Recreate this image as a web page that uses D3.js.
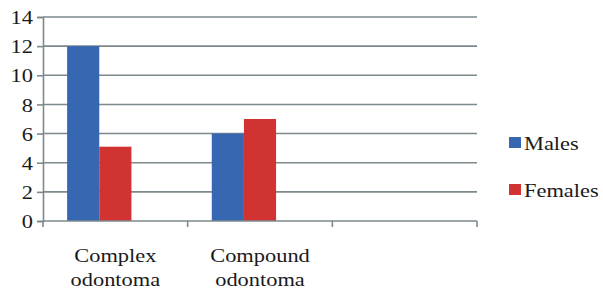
<!DOCTYPE html>
<html>
<head>
<meta charset="utf-8">
<script src="https://cdn.jsdelivr.net/npm/d3@7"></script>
<style>
  body { margin: 0; background: #fff; }
</style>
</head>
<body>
<svg id="chart" width="603" height="294" font-family="Liberation Serif"></svg>
<script>
// chart data
var categories = [["Complex", "odontoma"], ["Compound", "odontoma"], ["", ""]];
var series = ["Males", "Females"];
var males = [12, 6, null];
var females = [5.1, 7, null];
var yTicks = [0, 2, 4, 6, 8, 10, 12, 14];
var colors = ["#3767b0", "#d13232"];

(function () {
  var svg = d3.select('#chart');
  var left = 43, right = 477, plotTop = 17, plotBottom = 221;
  var gridColor = "#7d898c";
  var stretch = 'scale(1.18,1)';

  var y = d3.scaleLinear().domain([0, 14]).range([plotBottom, plotTop]);
  var x0 = d3.scaleBand().domain(d3.range(categories.length)).range([left, right]).padding(0);

  // excel style: 3 series slots (one empty) with 150% gap
  var slot = x0.bandwidth() / 4.5;
  var x1 = d3.scaleBand().domain(series)
    .range([slot * 0.75, slot * 2.75]).padding(0);

  // gridlines
  svg.append('g').selectAll('line')
    .data(yTicks.filter(function (d) { return d > 0; }))
    .join('line')
    .attr('x1', left).attr('x2', right)
    .attr('y1', function (d) { return y(d); })
    .attr('y2', function (d) { return y(d); })
    .attr('stroke', gridColor).attr('stroke-width', 1.6);

  // bars
  var rows = categories.map(function (c, i) {
    return { i: i, values: [males[i], females[i]] };
  });
  svg.append('g').selectAll('g')
    .data(rows)
    .join('g')
    .attr('transform', function (d) { return 'translate(' + x0(d.i) + ',0)'; })
    .selectAll('rect')
    .data(function (d) {
      return d.values.map(function (v, k) { return { key: series[k], value: v, k: k }; })
        .filter(function (e) { return e.value != null; });
    })
    .join('rect')
    .attr('x', function (d) { return x1(d.key); })
    .attr('width', x1.bandwidth())
    .attr('y', function (d) { return y(d.value); })
    .attr('height', function (d) { return y(0) - y(d.value); })
    .attr('fill', function (d) { return colors[d.k]; });

  // y axis
  var yAxis = svg.append('g')
    .attr('transform', 'translate(' + left + ',0)')
    .call(d3.axisLeft(y).tickValues(yTicks).tickSize(6).tickPadding(5).tickFormat(d3.format('d')));
  yAxis.attr('font-family', 'Liberation Serif').attr('font-size', 19);
  yAxis.select('.domain').attr('stroke', gridColor).attr('stroke-width', 1.6);
  yAxis.selectAll('.tick line').attr('stroke', gridColor).attr('stroke-width', 1.6);
  yAxis.selectAll('.tick text')
    .attr('fill', '#1a1a1a').attr('dy', '0.35em')
    .attr('x', null)
    .attr('transform', 'translate(-10,0) ' + stretch);

  // x axis baseline with category boundary ticks
  svg.append('line')
    .attr('x1', left).attr('x2', right)
    .attr('y1', y(0)).attr('y2', y(0))
    .attr('stroke', gridColor).attr('stroke-width', 1.6);
  var bounds = d3.range(categories.length + 1).map(function (i) {
    return i < categories.length ? x0(i) : right;
  });
  svg.append('g').selectAll('line')
    .data(bounds)
    .join('line')
    .attr('x1', function (d) { return d; }).attr('x2', function (d) { return d; })
    .attr('y1', y(0)).attr('y2', y(0) + 6)
    .attr('stroke', gridColor).attr('stroke-width', 1.6);

  // category labels
  var labels = svg.append('g').selectAll('text')
    .data(categories.filter(function (d) { return d[0] !== ''; }))
    .join('text')
    .attr('text-anchor', 'middle')
    .attr('font-size', 19)
    .attr('fill', '#1a1a1a')
    .attr('transform', function (d, i) {
      return 'translate(' + (x0(i) + x0.bandwidth() / 2) + ',0) ' + stretch;
    });
  labels.append('tspan').attr('x', 0).attr('y', 262).text(function (d) { return d[0]; });
  labels.append('tspan').attr('x', 0).attr('y', 286).text(function (d) { return d[1]; });

  // legend
  var legend = svg.append('g').selectAll('g')
    .data(series)
    .join('g')
    .attr('transform', function (d, i) { return 'translate(509,' + (137 + i * 47) + ')'; });
  legend.append('rect')
    .attr('width', 12).attr('height', 11)
    .attr('fill', function (d, i) { return colors[i]; });
  legend.append('text')
    .attr('transform', 'translate(15,13) ' + stretch)
    .attr('font-size', 19)
    .attr('fill', '#1a1a1a')
    .text(function (d) { return d; });
})();
</script>
</body>
</html>
